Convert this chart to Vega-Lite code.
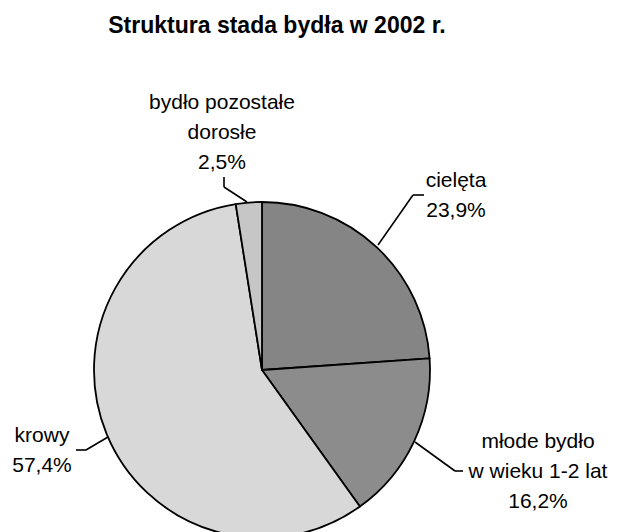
{
  "$schema": "https://vega.github.io/schema/vega-lite/v6.json",
  "width": 620,
  "height": 482,
  "autosize": {"type": "none"},
  "padding": {"left": 0, "right": 0, "top": 50, "bottom": 0},
  "background": "white",
  "title": {
    "text": "Struktura stada bydła w 2002 r.",
    "font": "Liberation Sans",
    "fontSize": 23,
    "fontWeight": "bold",
    "color": "black",
    "anchor": "middle",
    "offset": 12,
    "dx": -33
  },
  "config": {"view": {"stroke": null}},
  "datasets": {
    "struktura": [
      {"kategoria": "cielęta", "udzial": 23.9, "kolejnosc": 1},
      {"kategoria": "młode bydło w wieku 1-2 lat", "udzial": 16.2, "kolejnosc": 2},
      {"kategoria": "krowy", "udzial": 57.4, "kolejnosc": 3},
      {"kategoria": "bydło pozostałe dorosłe", "udzial": 2.5, "kolejnosc": 4}
    ],
    "etykiety": [
      {"tekst": "bydło pozostałe\ndorosłe\n2,5%", "px": 222, "py": 109},
      {"tekst": "cielęta\n23,9%", "px": 456, "py": 187},
      {"tekst": "młode bydło\nw wieku 1-2 lat\n16,2%", "px": 538, "py": 448},
      {"tekst": "krowy\n57,4%", "px": 42, "py": 442}
    ],
    "linie": [
      {"x1": 224, "y1": 177, "x2": 224, "y2": 187},
      {"x1": 224, "y1": 187, "x2": 247, "y2": 202},
      {"x1": 413, "y1": 195, "x2": 424, "y2": 195},
      {"x1": 413, "y1": 195, "x2": 378, "y2": 245},
      {"x1": 415, "y1": 442, "x2": 455, "y2": 471},
      {"x1": 455, "y1": 471, "x2": 463, "y2": 471},
      {"x1": 76, "y1": 450, "x2": 86, "y2": 450},
      {"x1": 86, "y1": 450, "x2": 108, "y2": 437}
    ]
  },
  "layer": [
    {
      "data": {"name": "struktura"},
      "mark": {"type": "arc", "outerRadius": 168, "stroke": "black", "strokeWidth": 1.8, "strokeJoin": "round"},
      "encoding": {
        "x": {"datum": 262, "type": "quantitative", "scale": {"domain": [0, 620], "range": [0, 620], "nice": false, "zero": false}, "axis": null},
        "y": {"datum": 370, "type": "quantitative", "scale": {"domain": [50, 532], "range": [0, 482], "nice": false, "zero": false}, "axis": null},
        "theta": {"field": "udzial", "type": "quantitative", "stack": true},
        "order": {"field": "kolejnosc", "type": "quantitative", "sort": "ascending"},
        "color": {
          "field": "kategoria",
          "type": "nominal",
          "legend": null,
          "scale": {
            "domain": ["cielęta", "młode bydło w wieku 1-2 lat", "krowy", "bydło pozostałe dorosłe"],
            "range": ["#858585", "#8c8c8c", "#d8d8d8", "#c6c6c6"]
          }
        }
      }
    },
    {
      "data": {"name": "linie"},
      "mark": {"type": "rule", "color": "black", "strokeWidth": 1.6},
      "encoding": {
        "x": {"field": "x1", "type": "quantitative", "scale": {"domain": [0, 620], "range": [0, 620], "nice": false, "zero": false}, "axis": null},
        "y": {"field": "y1", "type": "quantitative", "scale": {"domain": [50, 532], "range": [0, 482], "nice": false, "zero": false}, "axis": null},
        "x2": {"field": "x2"},
        "y2": {"field": "y2"}
      }
    },
    {
      "data": {"name": "etykiety"},
      "mark": {"type": "text", "font": "Liberation Sans", "fontSize": 21, "color": "black", "align": "center", "baseline": "alphabetic", "lineBreak": "\n", "lineHeight": 30},
      "encoding": {
        "x": {"field": "px", "type": "quantitative", "scale": {"domain": [0, 620], "range": [0, 620], "nice": false, "zero": false}, "axis": null},
        "y": {"field": "py", "type": "quantitative", "scale": {"domain": [50, 532], "range": [0, 482], "nice": false, "zero": false}, "axis": null},
        "text": {"field": "tekst", "type": "nominal"}
      }
    }
  ]
}
